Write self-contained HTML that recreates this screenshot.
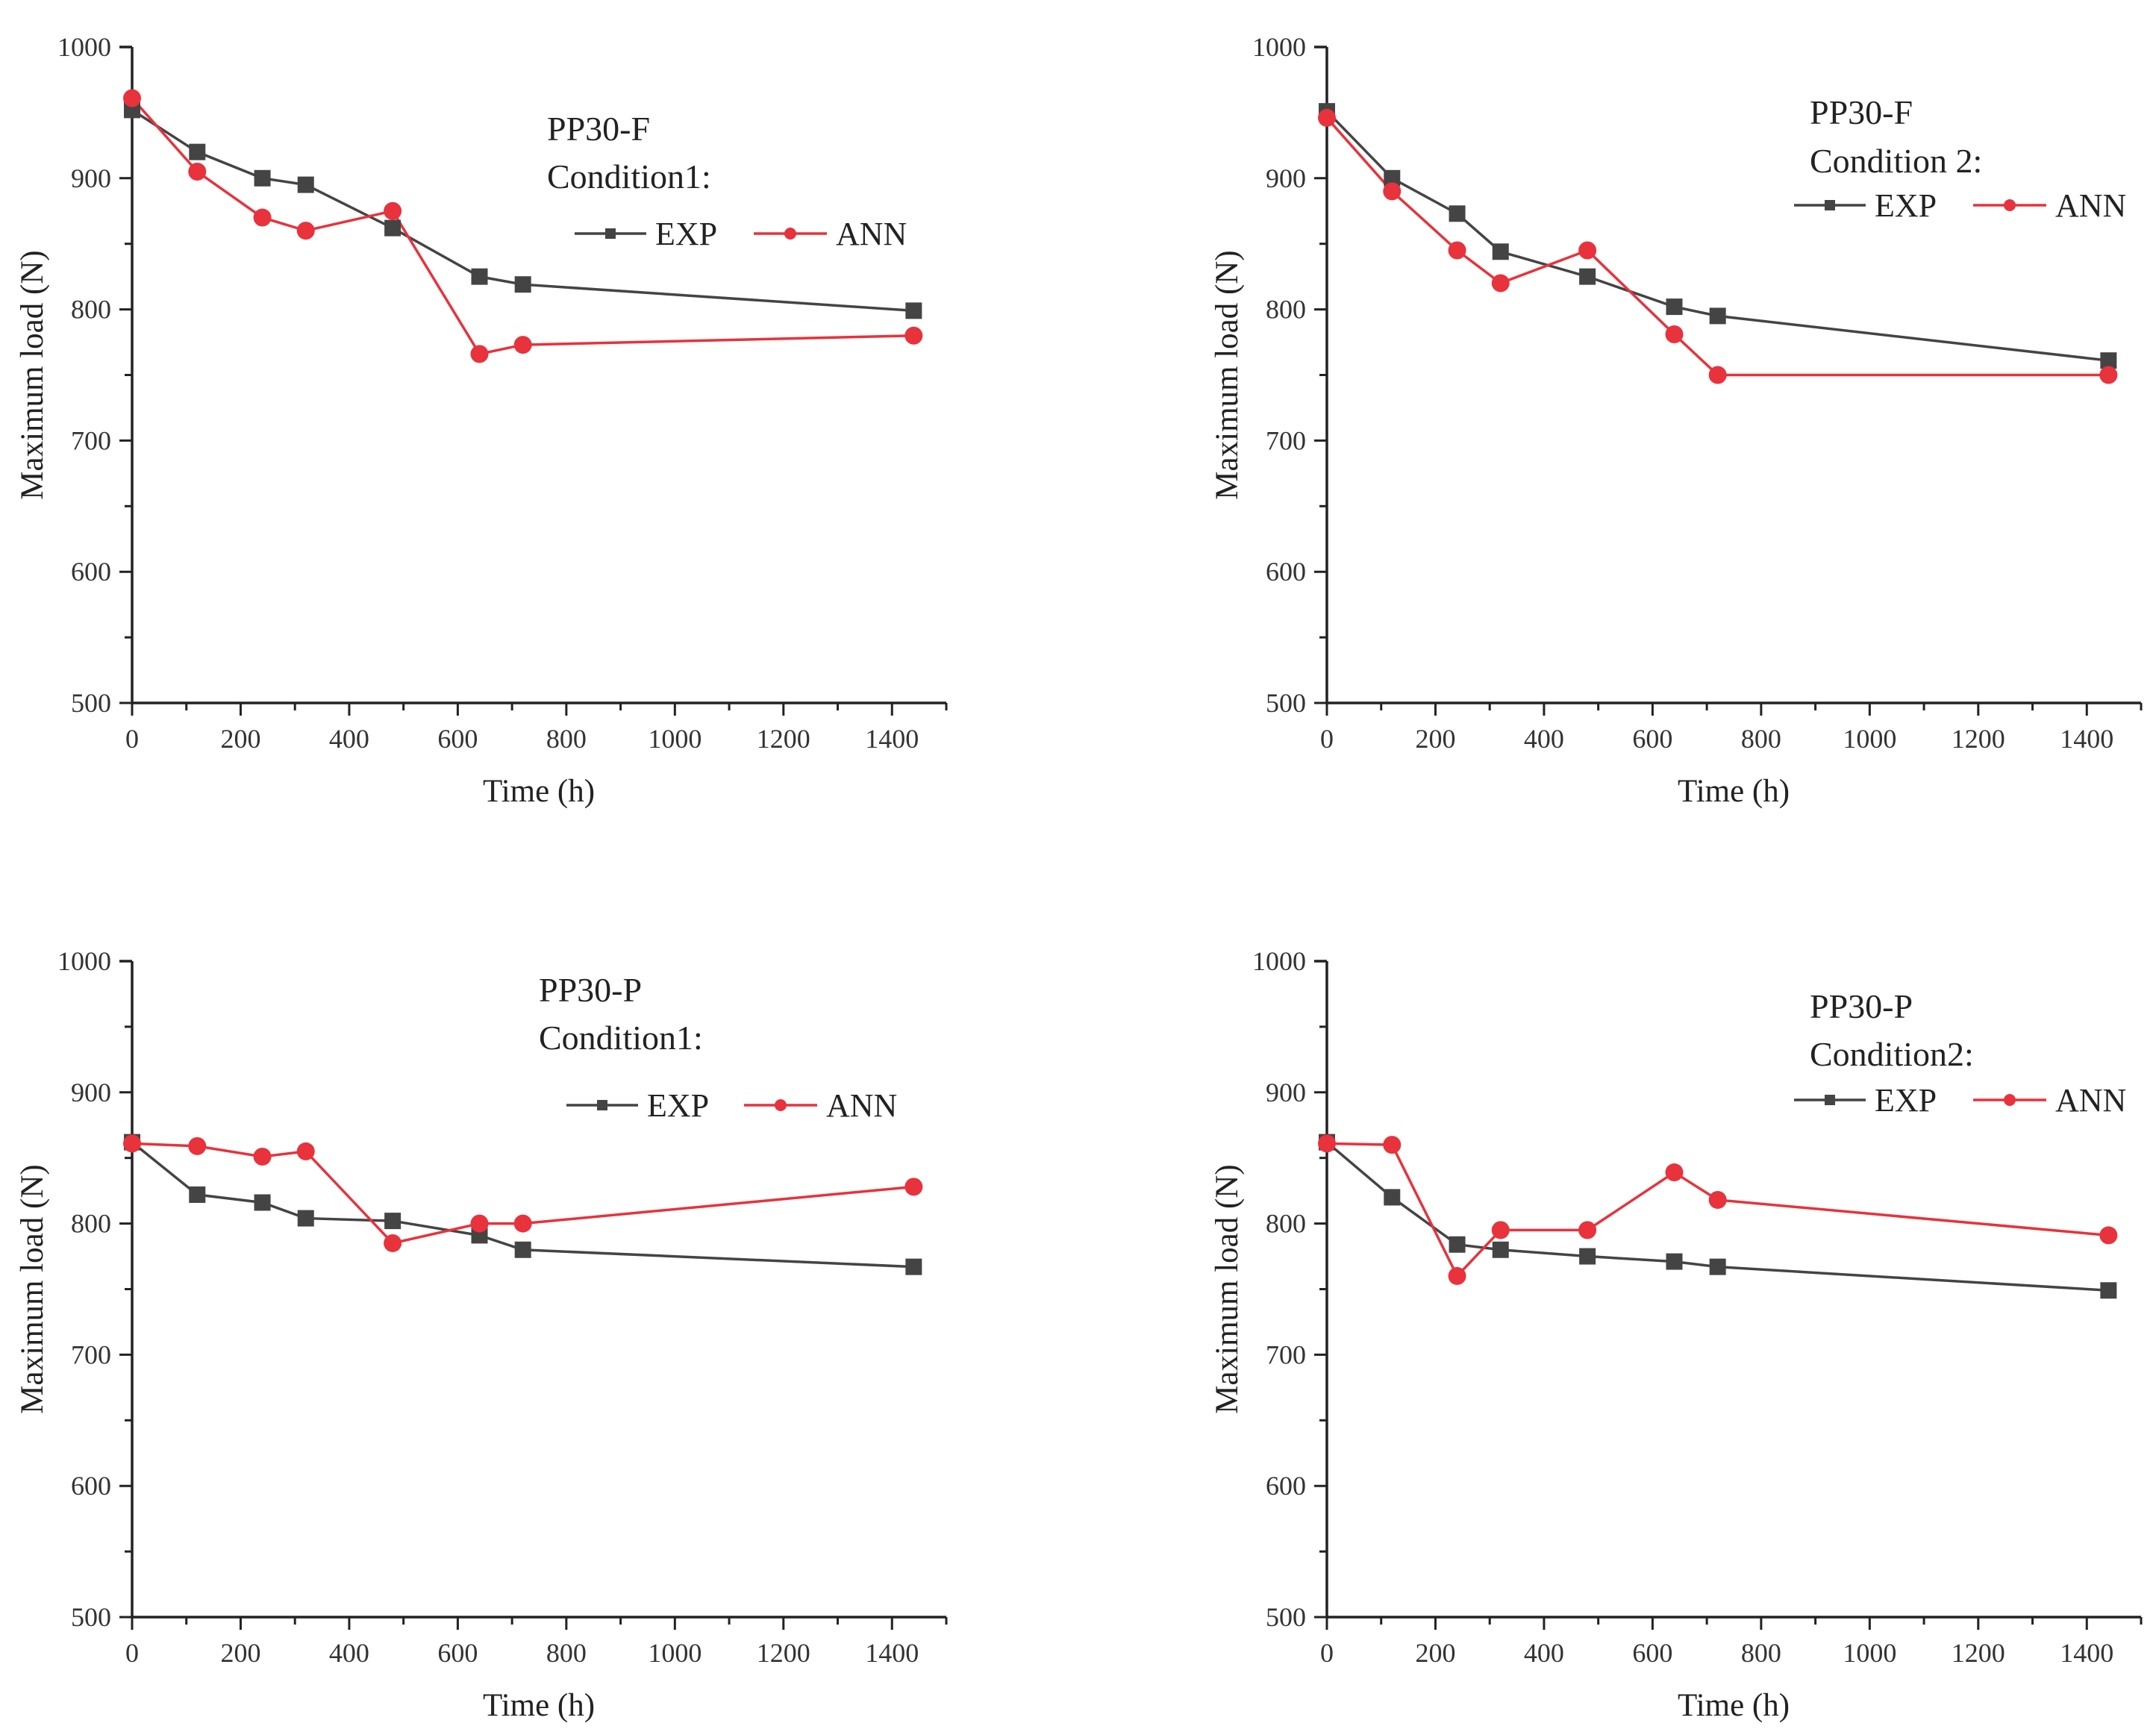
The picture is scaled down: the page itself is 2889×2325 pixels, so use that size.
<!DOCTYPE html>
<html><head><meta charset="utf-8">
<style>
html,body{margin:0;padding:0;background:#fff;}
svg{display:block;font-family:"Liberation Serif",serif;}
</style></head>
<body>
<svg id="fig" width="2889" height="2325" viewBox="0 0 2889 2325" xmlns="http://www.w3.org/2000/svg"></svg>
<script>
const times = [0,120,240,320,480,640,720,1440];
const exp1 = [952,920,900,895,862,825,819,799];
const ann1 = [961,905,870,860,875,766,773,780];
const exp2 = [951,900,873,844,825,802,795,761];
const ann2 = [946,890,845,820,845,781,750,750];
const exp3 = [862,822,816,804,802,791,780,767];
const ann3 = [861,859,851,855,785,800,800,828];
const exp4 = [862,820,784,780,775,771,767,749];
const ann4 = [861,860,760,795,795,839,818,791];
const xTicks = [0,200,400,600,800,1000,1200,1400];
const yTicks = [500,600,700,800,900,1000];
const titles1 = ["PP30-F","PP30-F","PP30-P","PP30-P"];
const titles2 = ["Condition1:","Condition 2:","Condition1:","Condition2:"];

const NS="http://www.w3.org/2000/svg";
const svg=document.getElementById('fig');
function mk(tag,attrs,parent){const e=document.createElementNS(NS,tag);for(const k in attrs)e.setAttribute(k,attrs[k]);(parent||svg).appendChild(e);return e;}

const panels=[
 {x0:177,y0:63,exp:exp1,ann:ann1,t1:[733,188],t2:[733,252],leg:[770,313],legANN:1010,name:'top-left'},
 {x0:1778,y0:63,exp:exp2,ann:ann2,t1:[2425,166],t2:[2425,231],leg:[2404,275],legANN:2644,name:'top-right'},
 {x0:177,y0:1288,exp:exp3,ann:ann3,t1:[722,1342],t2:[722,1406],leg:[759,1481],legANN:997,name:'bottom-left'},
 {x0:1778,y0:1288,exp:exp4,ann:ann4,t1:[2425,1364],t2:[2425,1428],leg:[2404,1474],legANN:2644,name:'bottom-right'}
];
const W=1091, H=879;
panels.forEach((p,i)=>{
  const g=mk('g',{});
  
  
  const sx=v=>p.x0+v/1500*W;
  const sy=v=>p.y0+H-(v-500)/500*H;
  const yb=p.y0+H;
  const ax=mk('path',{d:`M${p.x0},${p.y0} H${p.x0-17} M${p.x0},${p.y0} V${yb} H${p.x0+W}`,stroke:'#222','stroke-width':3.5,fill:'none'},g);
  
  
  for(let v=0;v<=1500;v+=100){
    const major=v%200===0;
    mk('line',{x1:sx(v),x2:sx(v),y1:yb,y2:yb+(major?17:10),stroke:'#222','stroke-width':3},g);
  }
  xTicks.forEach(v=>{
    const t=mk('text',{x:sx(v),y:yb+60,'font-size':36,'text-anchor':'middle',fill:'#333'},g);
    t.textContent=v;
    
    
  });
  for(let v=500;v<=1000;v+=50){
    const major=v%100===0;
    mk('line',{x1:p.x0,x2:p.x0-(major?17:10),y1:sy(v),y2:sy(v),stroke:'#222','stroke-width':3},g);
  }
  yTicks.forEach(v=>{
    const t=mk('text',{x:p.x0-28,y:sy(v)+12,'font-size':36,'text-anchor':'end',fill:'#333'},g);
    t.textContent=v;
    
    
  });
  const xt=mk('text',{x:p.x0+545,y:yb+132,'font-size':43,'text-anchor':'middle',fill:'#222'},g);
  xt.textContent='Time (h)';
  
  
  const cy=p.y0+H/2;
  const yt=mk('text',{x:p.x0-120,y:cy,'font-size':43,'text-anchor':'middle',fill:'#222',transform:`rotate(-90 ${p.x0-120} ${cy})`},g);
  yt.textContent='Maximum load (N)';
  
  
  const line=(arr)=>times.map((t,k)=>(k?'L':'M')+sx(t)+','+sy(arr[k])).join(' ');
  const le=mk('path',{d:line(p.exp),stroke:'#444','stroke-width':3.5,fill:'none'},g);
  
  
  const la=mk('path',{d:line(p.ann),stroke:'#e8323c','stroke-width':3.5,fill:'none'},g);
  
  
  times.forEach((t,k)=>{
    const r=mk('rect',{x:sx(t)-11,y:sy(p.exp[k])-11,width:22,height:22,fill:'#444'},g);
    
    
  });
  times.forEach((t,k)=>{
    const c=mk('circle',{cx:sx(t),cy:sy(p.ann[k]),r:12,fill:'#e8323c'},g);
    
    
  });
  const t1=mk('text',{x:p.t1[0],y:p.t1[1],'font-size':46,fill:'#222'},g);
  t1.textContent=titles1[i];
  
  
  const t2=mk('text',{x:p.t2[0],y:p.t2[1],'font-size':46,fill:'#222'},g);
  t2.textContent=titles2[i];
  
  
  const lx=p.leg[0], ly=p.leg[1];
  const lg=mk('g',{},g);
  
  
  mk('line',{x1:lx,x2:lx+96,y1:ly,y2:ly,stroke:'#444','stroke-width':3.5},lg);
  mk('rect',{x:lx+41,y:ly-7,width:14,height:14,fill:'#444'},lg);
  const te=mk('text',{x:lx+108,y:ly+15,'font-size':44,fill:'#222'},lg);
  te.textContent='EXP';
  
  
  const ax2=p.legANN;
  mk('line',{x1:ax2,x2:ax2+98,y1:ly,y2:ly,stroke:'#e8323c','stroke-width':3.5},lg);
  mk('circle',{cx:ax2+49,cy:ly,r:8,fill:'#e8323c'},lg);
  const ta=mk('text',{x:ax2+110,y:ly+15,'font-size':44,fill:'#222'},lg);
  ta.textContent='ANN';
  
  
});
</script>
</body></html>
